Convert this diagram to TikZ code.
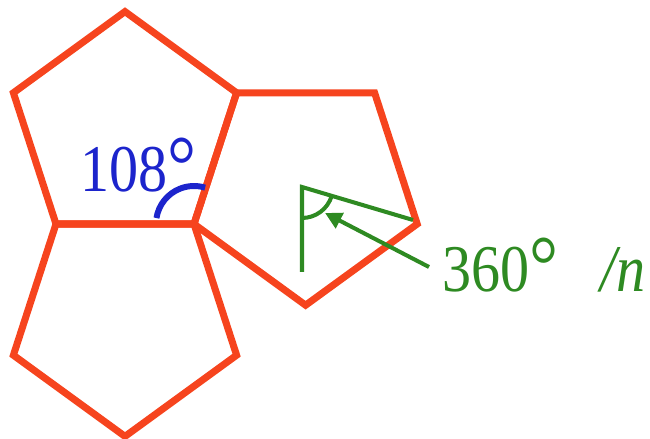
\documentclass[tikz,border=0pt]{standalone}
\usepackage{fontspec}
\setmainfont{Liberation Serif}
\newfontfamily\labelfont[FakeStretch=0.87]{Liberation Serif}
\usepackage{tikz}
\usetikzlibrary{arrows.meta}

\definecolor{penred}{RGB}{246,68,30}
\definecolor{angblue}{RGB}{28,36,204}
\definecolor{cengreen}{RGB}{46,138,34}

\begin{document}
\begin{tikzpicture}[
    x=0.02cm, y=-0.02cm,
    pent/.style={draw=penred, line width=4pt},
    inner/.style={draw=angblue, line width=3.4pt},
    spoke/.style={draw=cengreen, line width=2.3pt},
    pointer/.style={spoke, -{Triangle[length=9.5pt, width=9.5pt]}},
    lbl/.style={inner sep=0pt, anchor=base west, font=\labelfont\fontsize{38}{44}\selectfont},
]
\useasboundingbox (0,0) rectangle (650,439);

% pentagon corners
\coordinate (v)  at (194,224);
\coordinate (bl) at (56,224);
\coordinate (t1) at (125,11.6);
\coordinate (t2) at (236.6,92.8);
\coordinate (t5) at (13.4,92.8);
\coordinate (b3) at (236.6,355.2);
\coordinate (b4) at (125,436.4);
\coordinate (b5) at (13.4,355.2);
\coordinate (r2) at (374.6,92.8);
\coordinate (r3) at (417.2,224);
\coordinate (r4) at (305.6,305.2);

\draw[pent] (t1) -- (t2) -- (v) -- (bl) -- (t5) -- cycle;
\draw[pent] (bl) -- (v) -- (b3) -- (b4) -- (b5) -- cycle;
\draw[pent] (t2) -- (r2) -- (r3) -- (r4) -- (v) -- cycle;

% interior angle (y axis points down)
\draw[inner] ([shift={(-171:38)}]v) arc[start angle=-171, end angle=-73, radius=38];
\node[lbl, text=angblue] (deg) at (80,192) {108\raisebox{-1pt}{\scalebox{1.25}{°}}};

% central angle
\coordinate (c)  at (302,187);
\coordinate (c1) at (302,272);
\coordinate (c2) at (413,220);
\draw[spoke] (c1) -- (c) -- (c2);
\draw[spoke] ([shift={(90:31)}]c) arc[start angle=90, end angle=17, radius=31];
\coordinate (tail) at (429,267);
\coordinate (tip)  at (325,213);
\draw[pointer] (tail) -- (tip);
\node[lbl, text=cengreen] (cen) at (442,292) {360\raisebox{-1pt}{\scalebox{1.25}{°}}\hspace{24pt}\itshape /n};
\end{tikzpicture}
\end{document}
